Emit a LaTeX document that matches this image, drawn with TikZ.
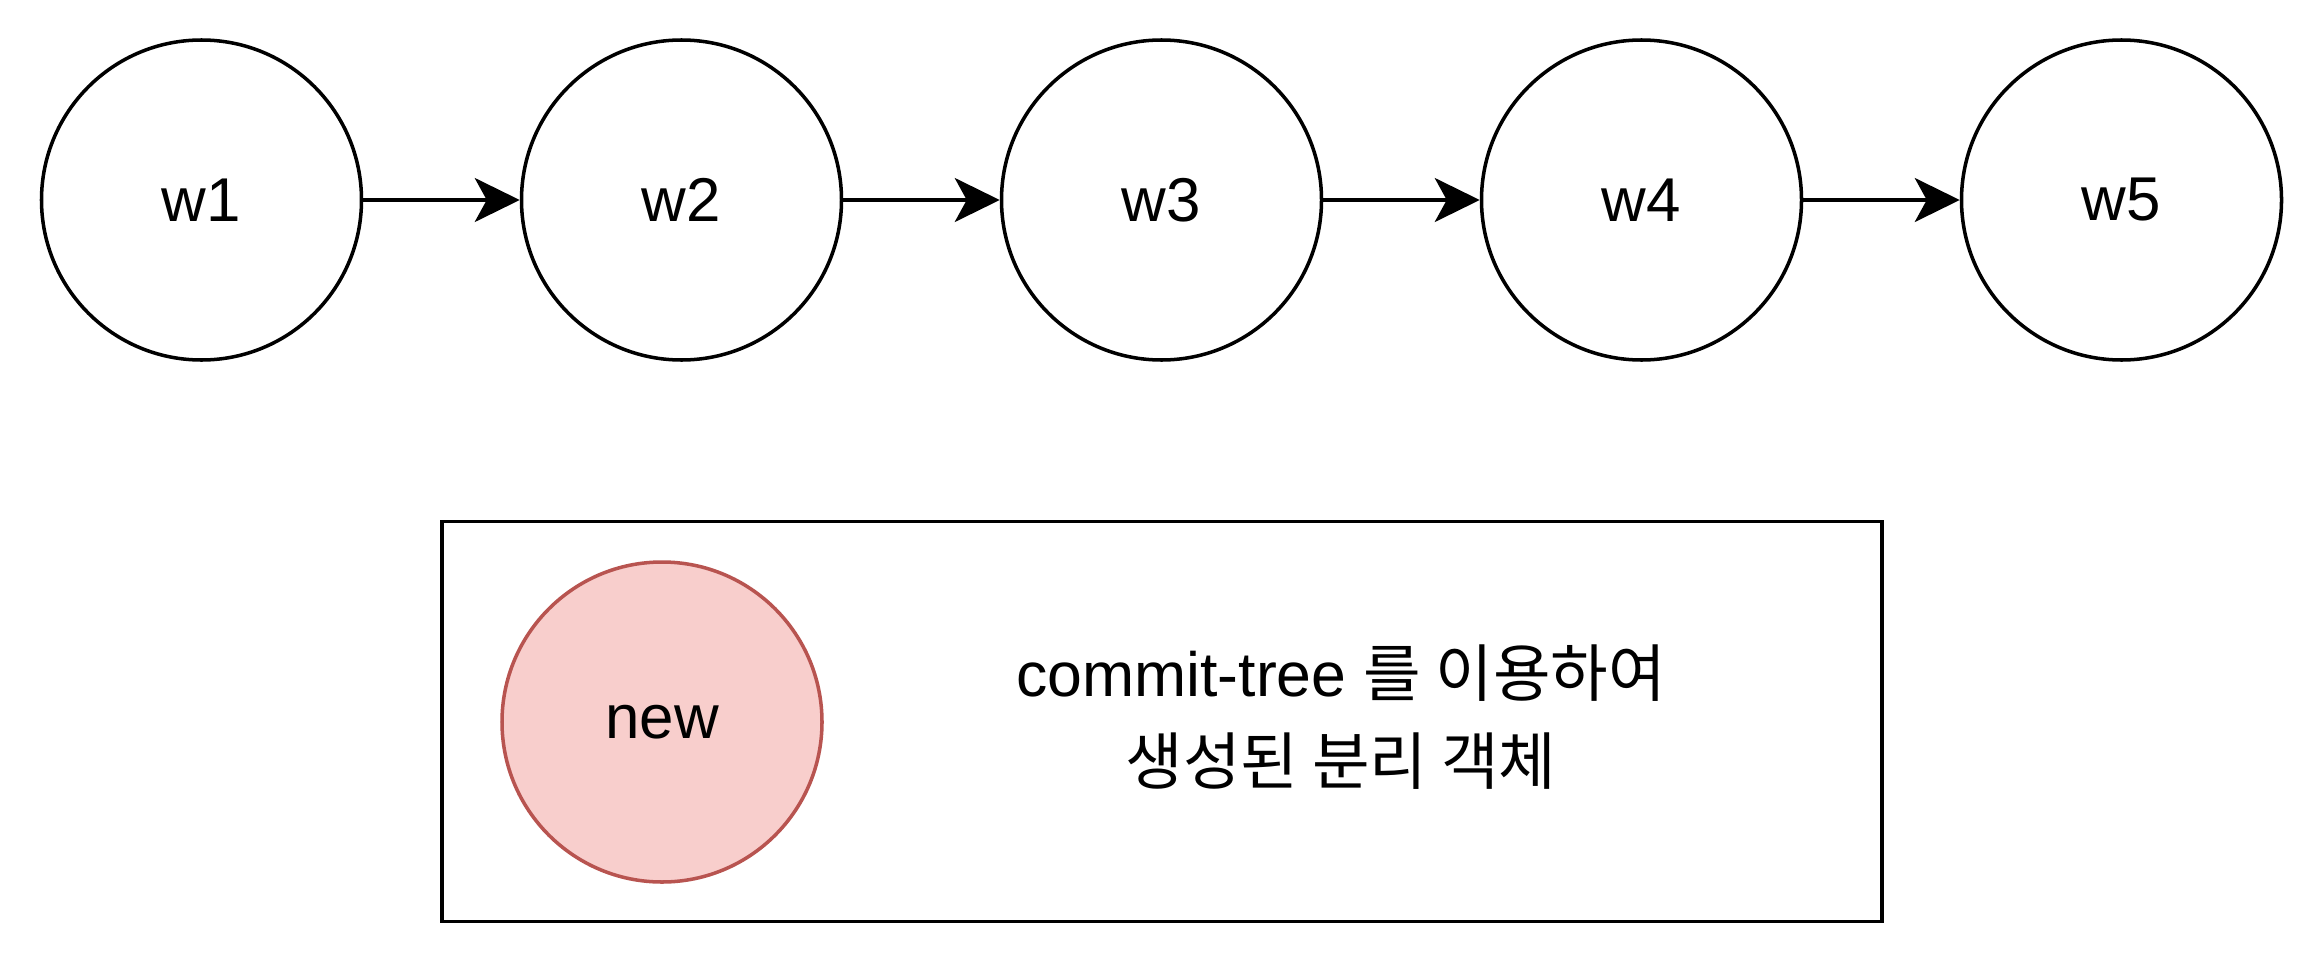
\documentclass[tikz,border=0pt]{standalone}
\usepackage{fontspec}
\setmainfont{Liberation Sans}
\newfontfamily\krfont{Noto Sans CJK KR}
\usetikzlibrary{arrows.meta,positioning}
\definecolor{wedge}{RGB}{0,0,0}
\definecolor{newfill}{HTML}{F8CECC}
\definecolor{newedge}{HTML}{B85450}
\tikzset{
  wnode/.style={
    circle, draw=wedge, line width=1pt, minimum size=3.2cm,
    inner sep=0pt, font=\fontsize{17.6}{22}\selectfont
  },
  newnode/.style={wnode, fill=newfill, draw=newedge},
  arr/.style={-{Stealth[length=4.5mm,width=4.4mm,inset=1.2mm]}, draw=wedge, line width=1pt},
  legend/.style={
    draw=wedge, line width=1pt, minimum width=14.40cm,
    minimum height=4.0cm, inner sep=0pt
  },
  note/.style={align=center, font=\fontsize{17.8}{25}\selectfont}
}
\begin{document}
\begin{tikzpicture}[x=1cm,y=1cm]
  \useasboundingbox (0,0) rectangle (23.24,-9.64);
  \node[wnode] (w1) at (2.015,-2.0) {w1};
  \node[wnode] (w2) at (6.815,-2.0) {w2};
  \node[wnode] (w3) at (11.615,-2.0) {w3};
  \node[wnode] (w4) at (16.415,-2.0) {w4};
  \node[wnode] (w5) at (21.215,-2.0) {w5};
  \draw[arr] (w1) -- (w2);
  \draw[arr] (w2) -- (w3);
  \draw[arr] (w3) -- (w4);
  \draw[arr] (w4) -- (w5);
  % legend
  \node[legend] (box) at (11.619,-7.217) {};
  \node[newnode] (new) at (6.62,-7.22) {new};
  \node[note] (desc) at (13.41,-7.17) {commit-tree {\krfont 를 이용하여}\\{\krfont 생성된 분리 객체}};
\end{tikzpicture}
\end{document}
